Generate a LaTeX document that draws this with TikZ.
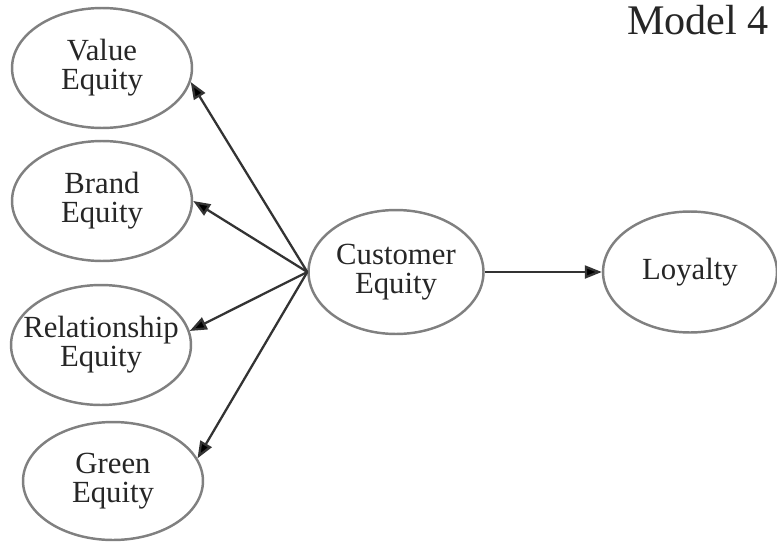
\documentclass[tikz,border=0pt]{standalone}
\usepackage{fontspec}
\setmainfont{Liberation Serif}
\usetikzlibrary{shapes.geometric}
\usetikzlibrary{arrows.meta}

\tikzset{
  construct/.style={draw=black!50, line width=1.4pt, ellipse,
    minimum width=3.6cm, minimum height=2.4cm, inner sep=0pt},
  constructtext/.style={align=center, inner sep=0pt, text=black!85,
    font=\fontsize{17.5}{16.5}\selectfont},
  link/.style={draw=black!80, line width=1.3pt,
    -{Triangle[length=0.34cm, width=0.26cm, fill=black]}}
}

\begin{document}
\begin{tikzpicture}[x=0.02cm, y=-0.02cm]
        \useasboundingbox (0, 0) rectangle (777, 541);

        \node[construct, label={[constructtext]center:Value\\Equity}] (value) at (102, 68) {};
        \node[construct, label={[constructtext]center:Brand\\Equity}] (brand) at (102, 201) {};
        \node[construct, label={[constructtext]center:Relationship\\Equity}] (relation) at (101, 345) {};
        \node[construct, minimum height=2.36cm, label={[constructtext]center:Green\\Equity}] (green) at (113, 481) {};

        \node[construct, minimum width=3.5cm, minimum height=2.48cm,
            label={[constructtext]center:Customer\\Equity}] (customer) at (396, 272) {};
        \node[construct, minimum width=3.48cm, minimum height=2.42cm,
            label={[constructtext]center:Loyalty}] (loyalty) at (690, 272) {};

        \node[text=black!85, font=\fontsize{24}{24}\selectfont] (model) at (698, 20) {Model 4};

        \draw[link] (customer.west) -- (value.-9);
        \draw[link] (customer.west) -- (brand.east);
        \draw[link] (customer.west) -- (relation.9);
        \draw[link] (customer.west) -- (green.15);
        \draw[link] (customer.east) -- (loyalty.west);
\end{tikzpicture}
\end{document}
